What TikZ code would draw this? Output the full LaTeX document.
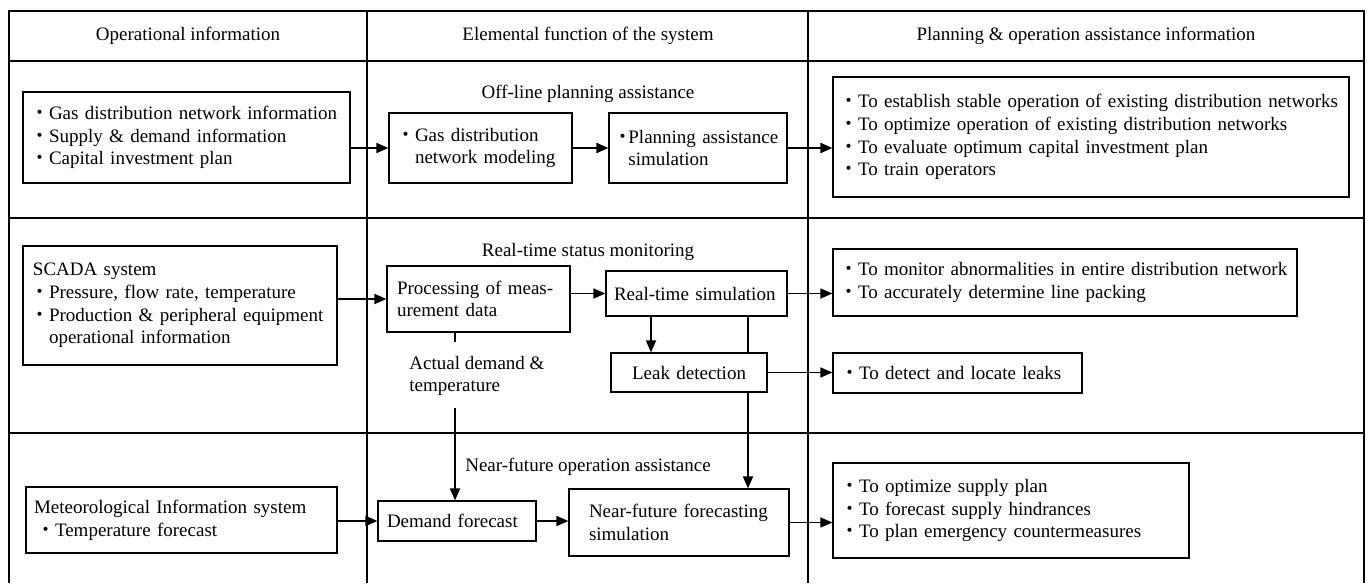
\documentclass[tikz,border=0pt]{standalone}
\usepackage{fontspec}
\setmainfont{Liberation Serif}
\newfontfamily\cjk{Noto Sans CJK JP}
\usetikzlibrary{arrows.meta}

\newcommand{\bul}{\makebox[1em][c]{\cjk ・}}
\newcommand{\hbul}{\makebox[0.6em][c]{\cjk ・}}

\begin{document}
\begin{tikzpicture}[x=0.5pt,y=-0.5pt,font=\fontsize{9.5}{11.4}\selectfont,
  box/.style={draw,line width=0.6pt,inner xsep=3.5pt,inner ysep=1pt,align=left},
  flow/.style={draw,line width=0.85pt,-{Triangle[length=6pt,width=5pt]}},
  frame/.style={line width=1.1pt}]

  \useasboundingbox (0,0) rectangle (1369,583);

  % table frame
  \draw[frame] (9,583) -- (9,11) -- (1364,11) -- (1364,583);
  \draw[frame] (9,61) -- (1364,61) (9,218) -- (1364,218) (9,433) -- (1364,433);
  \draw[frame] (367,11) -- (367,583) (808,11) -- (808,583);

  \node (hop) at (188,36) {Operational information};
  \node (hfn) at (588,36) {Elemental function of the system};
  \node (hpl) at (1086,36) {Planning \& operation assistance information};

  \node (toff) at (588,94) {Off-line planning assistance};
  \node (treal) at (588,252) {Real-time status monitoring};
  \node (tnear) at (588,467) {Near-future operation assistance};

  % off-line planning
  \node[box,text width=156.5pt,minimum height=45.5pt] (opinfo) at (186.5,137.5)
    {\bul Gas distribution network information\\ \bul Supply \& demand information\\ \bul Capital investment plan};
  \node[box,text width=84.5pt,minimum height=35pt] (model) at (480.5,148)
    {\bul Gas distribution\\ \hspace*{1em}network modeling};
  \node[box,inner xsep=4pt,text width=81pt,minimum height=35pt] (plansim) at (698,148)
    {\hbul Planning assistance\\ \hspace*{0.6em}simulation};
  \node[box,inner xsep=3pt,text width=252pt,minimum height=60pt] (planinfo) at (1091,137)
    {\bul To establish stable operation of existing distribution networks\\ \bul To optimize operation of existing distribution networks\\ \bul To evaluate optimum capital investment plan\\ \bul To train operators};

  % real-time monitoring
  \node[box,text width=150pt,minimum height=59.5pt] (scada) at (180,305.5)
    {\hspace*{1.5pt}SCADA system\\ \bul Pressure, flow rate, temperature\\ \bul Production \& peripheral equipment\\ \hspace*{1em}operational information};
  \node[box,inner xsep=5pt,text width=81.5pt,minimum height=33pt] (proc) at (478.5,299)
    {Processing of meas-\\urement data};
  \node[box,inner xsep=4pt,text width=82.5pt,minimum height=22.5pt] (rtsim) at (696.5,293.5)
    {Real-time simulation};
  \node[box,align=center,text width=71pt,minimum height=19.5pt] (leak) at (689,372.5)
    {Leak detection};
  \node[box,inner xsep=3pt,text width=226pt,minimum height=33.5pt] (rtinfo) at (1065,282.5)
    {\bul To monitor abnormalities in entire distribution network\\ \bul To accurately determine line packing};
  \node[box,text width=117.5pt,minimum height=20pt] (leakinfo) at (957.5,373)
    {\bul To detect and locate leaks};
  \node[align=left,anchor=west,inner sep=0pt] (actual) at (409,376)
    {Actual demand \&\\temperature};

  % near-future operation
  \node[box,inner xsep=4pt,text width=147.5pt,minimum height=33pt] (meteo) at (181.5,520)
    {Meteorological Information system\\ \hspace*{1pt}\bul Temperature forecast};
  \node[box,inner xsep=4.5pt,text width=70pt,minimum height=20pt] (demand) at (457,521)
    {Demand forecast};
  \node[box,inner xsep=10pt,text width=90pt,minimum height=33.5pt] (nfsim) at (679,522.5)
    {Near-future forecasting\\simulation};
  \node[box,text width=171pt,minimum height=47.5pt] (nfinfo) at (1011,510.5)
    {\bul To optimize supply plan\\ \bul To forecast supply hindrances\\ \bul To plan emergency countermeasures};

  \coordinate (leakx) at (651,0);
  \coordinate (nfx) at (748,0);
  \coordinate (stub) at (455,342);
  \coordinate (dmd) at (455,408);

  \path (model.west -| opinfo.east) edge[flow] (model.west)
    (model) edge[flow] (plansim)
    (plansim.east) edge[flow] (plansim.east -| planinfo.west)
    (proc.west -| scada.east) edge[flow] (proc.west)
    (proc.east |- rtsim.west) edge[flow] (rtsim.west)
    (rtsim.east) edge[flow] (rtsim.east -| rtinfo.west)
    (rtsim.south -| leakx) edge[flow] (leak.north -| leakx)
    (leak.east) edge[flow] (leak.east -| leakinfo.west)
    (leak.south -| nfx) edge[flow] (nfsim.north -| nfx)
    (dmd) edge[flow] (demand.north -| dmd)
    (demand.west -| meteo.east) edge[flow] (demand.west)
    (demand.east) edge[flow] (demand.east -| nfsim.west)
    (nfsim.east) edge[flow] (nfsim.east -| nfinfo.west);
  \draw[line width=0.85pt] (rtsim.south -| nfx) -- (leak.north -| nfx)
    (proc.south -| stub) -- (stub);
\end{tikzpicture}
\end{document}
